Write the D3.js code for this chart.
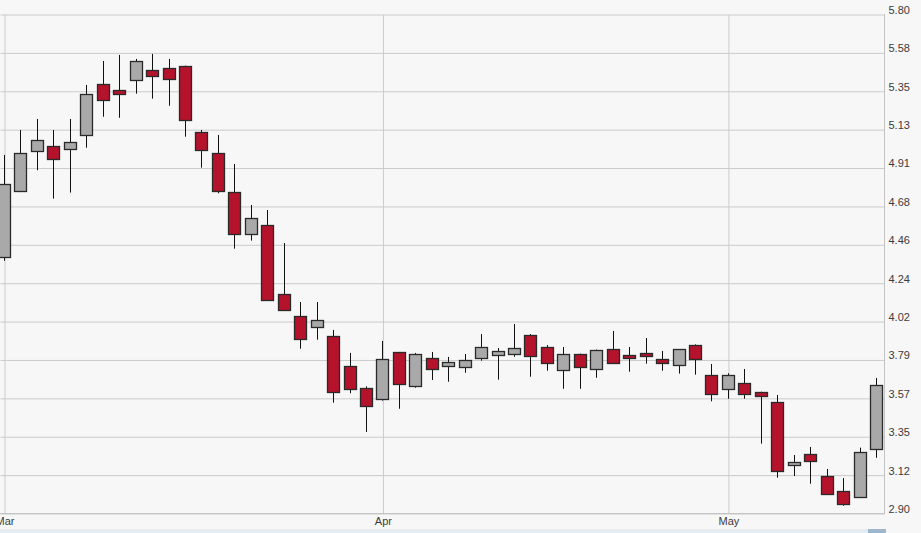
<!DOCTYPE html>
<html>
<head>
<meta charset="utf-8">
<script src="https://cdn.jsdelivr.net/npm/d3@7"></script>
<style>
  html, body { margin: 0; padding: 0; background: #f7f7f7; }
  svg { display: block; }
</style>
</head>
<body>
<svg id="chart" width="921" height="533"></svg>
<script>
// ---- data ----
const dates = [
  "2016-03-01","2016-03-02","2016-03-03","2016-03-04","2016-03-07","2016-03-08","2016-03-09","2016-03-10","2016-03-11",
  "2016-03-14","2016-03-15","2016-03-16","2016-03-17","2016-03-18","2016-03-21","2016-03-22","2016-03-23","2016-03-24",
  "2016-03-25","2016-03-28","2016-03-29","2016-03-30","2016-03-31",
  "2016-04-01","2016-04-04","2016-04-05","2016-04-06","2016-04-07","2016-04-08","2016-04-11","2016-04-12","2016-04-13",
  "2016-04-14","2016-04-15","2016-04-18","2016-04-19","2016-04-20","2016-04-21","2016-04-22","2016-04-25","2016-04-26",
  "2016-04-27","2016-04-28","2016-04-29",
  "2016-05-02","2016-05-03","2016-05-04","2016-05-05","2016-05-06","2016-05-09","2016-05-10","2016-05-11","2016-05-12","2016-05-13"
];
const open  = [4.388,4.771,5.006,5.033,5.016,5.101,5.395,5.360,5.417,5.475,5.486,5.500,5.116,4.992,4.767,4.522,4.576,4.175,4.045,3.981,3.929,3.754,3.627,
               3.563,3.836,3.638,3.801,3.754,3.749,3.803,3.818,3.826,3.936,3.867,3.733,3.826,3.737,3.855,3.817,3.830,3.797,3.756,3.878,3.702,
               3.621,3.657,3.605,3.547,3.183,3.245,3.117,3.030,2.995,3.274];
const high  = [4.981,5.126,5.190,5.126,5.190,5.388,5.527,5.562,5.539,5.568,5.539,5.500,5.126,5.097,4.928,4.690,4.661,4.469,4.126,4.126,3.964,3.830,3.636,
               3.900,3.836,3.830,3.836,3.807,3.824,3.940,3.859,3.998,3.940,3.876,3.865,3.826,3.850,3.958,3.865,3.917,3.842,3.851,3.880,3.766,
               3.712,3.737,3.605,3.586,3.237,3.284,3.156,3.103,3.280,3.685];
const low   = [4.366,4.765,4.892,4.727,4.762,5.023,5.203,5.197,5.337,5.308,5.267,5.087,4.907,4.758,4.436,4.483,4.132,4.080,3.855,3.907,3.541,3.596,3.371,
               3.553,3.506,3.628,3.673,3.663,3.715,3.785,3.675,3.808,3.692,3.727,3.622,3.622,3.686,3.776,3.721,3.768,3.727,3.710,3.704,3.549,
               3.564,3.564,3.303,3.105,3.115,3.070,3.010,2.942,2.995,3.221];
const close = [4.812,4.994,5.070,4.959,5.058,5.337,5.300,5.337,5.529,5.442,5.422,5.184,5.012,4.773,4.523,4.616,4.138,4.080,3.911,4.023,3.605,3.622,3.522,
               3.795,3.650,3.826,3.735,3.779,3.791,3.867,3.843,3.861,3.814,3.774,3.826,3.750,3.849,3.776,3.801,3.812,3.774,3.851,3.795,3.593,
               3.704,3.593,3.582,3.144,3.198,3.202,3.010,2.952,3.256,3.646];
const yTicks = [2.90,3.12,3.35,3.57,3.79,4.02,4.24,4.46,4.68,4.91,5.13,5.35,5.58,5.80];
const yTickValues = d3.range(14).map(i => 2.90 + i * (5.80 - 2.90) / 13);
const monthLabels = ["Mar","Apr","May"];
const monthStarts = ["2016-03-01","2016-04-01","2016-05-02"];

// ---- layout ----
const W = 921, H = 533;
const plot = { left: 0, right: 884, top: 14, bottom: 513 };
const svg = d3.select("#chart");

svg.append("rect").attr("width", W).attr("height", H).attr("fill", "#f7f7f7");

const x = d3.scaleLinear().domain([0, dates.length - 1]).range([4, 876]);
const y = d3.scaleLinear().domain([2.90, 5.80]).range([plot.bottom, plot.top]);
const idx = d => dates.indexOf(d);

// clip
svg.append("defs").append("clipPath").attr("id", "clip")
  .append("rect").attr("x", plot.left).attr("y", plot.top - 1)
  .attr("width", plot.right - plot.left).attr("height", plot.bottom - plot.top + 2);

// horizontal gridlines + right labels via axis
const yAxis = d3.axisRight(y).tickValues(yTickValues)
  .tickSize(-(plot.right - plot.left)).tickPadding(5)
  .tickFormat((d, i) => yTicks[i].toFixed(2));
const gy = svg.append("g").attr("transform", `translate(${plot.right + 0.5},0)`).call(yAxis);
gy.select(".domain").remove();
gy.selectAll(".tick line").attr("stroke", "#cbcbcb").attr("transform", "translate(0,0.5)");
gy.selectAll(".tick text")
  .attr("x", 4).attr("dy", "-0.05em")
  .attr("fill", "#3c3c3c").style("font-family", "Liberation Sans, Arial, sans-serif").style("font-size", "11px");

// vertical month gridlines + labels via axis
const monthIdx = monthStarts.map(idx);
const xAxis = d3.axisBottom(x).tickValues(monthIdx)
  .tickSize(-(plot.bottom - plot.top)).tickPadding(4)
  .tickFormat((d, i) => monthLabels[i]);
const gx = svg.append("g").attr("transform", `translate(0.5,${plot.bottom + 0.5})`).call(xAxis);
gx.select(".domain").remove();
gx.selectAll(".tick line").attr("stroke", "#cbcbcb");
gx.selectAll(".tick text")
  .attr("fill", "#3c3c3c").style("font-family", "Liberation Sans Narrow, Liberation Sans, Arial, sans-serif").style("font-size", "11px");

// plot frame: bottom and right lines
svg.append("line").attr("x1", plot.left).attr("x2", plot.right + 1)
  .attr("y1", plot.bottom + 0.5).attr("y2", plot.bottom + 0.5).attr("stroke", "#c4c4c4");
svg.append("line").attr("x1", plot.right + 0.5).attr("x2", plot.right + 0.5)
  .attr("y1", plot.top).attr("y2", plot.bottom + 1).attr("stroke", "#c4c4c4");

// candles
const data = dates.map((d, i) => ({ i, o: open[i], h: high[i], l: low[i], c: close[i] }));
const bw = 13;
const g = svg.append("g").attr("clip-path", "url(#clip)");
const candle = g.selectAll("g.c").data(data).join("g").attr("class", "c");
candle.append("line")
  .attr("x1", d => Math.round(x(d.i)) + 0.5).attr("x2", d => Math.round(x(d.i)) + 0.5)
  .attr("y1", d => y(d.h)).attr("y2", d => y(d.l))
  .attr("stroke", "#111").attr("stroke-width", 1);
candle.append("rect")
  .attr("x", d => Math.round(x(d.i)) - Math.floor(bw / 2) + 0.5)
  .attr("width", bw - 1)
  .attr("y", d => Math.round(y(Math.max(d.o, d.c))) + 0.5)
  .attr("height", d => Math.max(2, Math.round(Math.abs(y(d.o) - y(d.c)))))
  .attr("fill", d => d.c >= d.o ? "#a9a9a9" : "#b5122c")
  .attr("stroke", "#2a2a2a").attr("stroke-width", 1.3);

// navigator strip at bottom
svg.append("rect").attr("x", 0).attr("y", 529).attr("width", 870).attr("height", 4)
  .attr("fill", "#e4ebf1");
svg.append("rect").attr("x", 868).attr("y", 529).attr("width", 18).attr("height", 4)
  .attr("fill", "#9fb6cc");
</script>
</body>
</html>
